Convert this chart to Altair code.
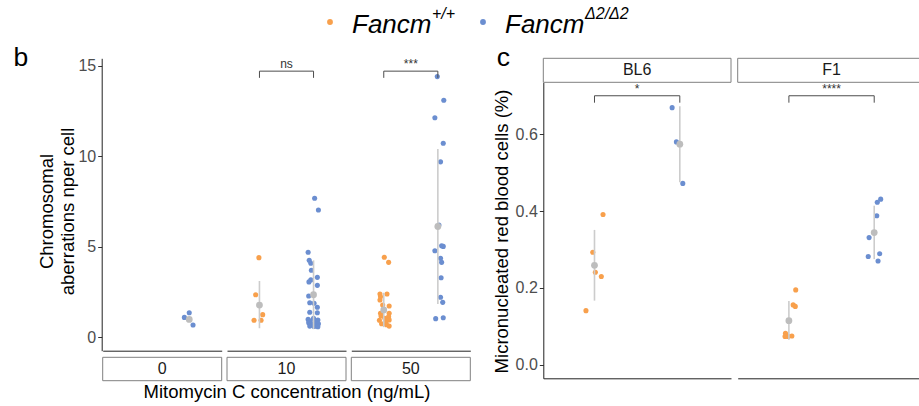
import altair as alt
import pandas as pd

FONT = "Liberation Sans"
COL_WT = "#F8A04C"
COL_KO = "#6B8ED0"
COL_MEAN = "#BDBDBD"
COL_SD = "#CCCCCC"
COL_LINE = "#222222"
COL_BRACKET = "#4D4D4D"
COL_STRIP = "#808080"

genotypes = ["+/+", "Δ2/Δ2"]
geno_slot = {"+/+": 1, "Δ2/Δ2": 2}

# ---------------- panel b: chromosomal aberrations per cell ----------------
b_concentrations = ["0", "10", "50"]

b_0_ko = [1.10, 1.36, 0.68]
b_0_ko_jitter = [-0.09, 0.00, 0.07]

b_10_wt = [4.40, 2.35, 1.25, 0.94, 0.94]
b_10_wt_jitter = [-0.01, -0.07, 0.06, -0.10, 0.03]

b_10_ko = [7.68, 7.03, 4.70, 4.25, 4.09, 3.70, 3.31, 3.17, 3.06, 2.87,
           2.28, 1.91, 1.88, 1.66, 1.38, 1.36, 1.05, 0.99, 0.95, 0.90,
           0.85, 0.80, 0.75, 0.70, 0.65, 0.62, 0.60, 0.58]
b_10_ko_jitter = [0.02, 0.09, -0.10, -0.08, -0.05, -0.04, 0.07, -0.05, -0.085, 0.07,
                  -0.09, -0.07, 0.01, 0.07, -0.07, 0.07, 0.00, -0.10, 0.08, -0.06,
                  0.03, -0.09, 0.09, -0.02, 0.05, -0.07, 0.01, 0.08]

b_50_wt = [4.42, 4.14, 2.39, 2.39, 2.24, 2.06, 1.78, 1.73, 1.50, 1.33,
           1.33, 1.18, 1.14, 1.05, 0.96, 0.94, 0.86, 0.75, 0.70, 0.62]
b_50_wt_jitter = [0.01, 0.09, -0.07, 0.06, -0.06, -0.07, -0.02, 0.10, 0.00, -0.06,
                  0.10, -0.05, 0.09, 0.02, 0.10, -0.08, 0.04, -0.04, 0.05, 0.10]

b_50_ko = [14.40, 13.09, 12.13, 10.72, 9.69, 6.20, 5.06, 5.02, 4.78, 4.36,
           4.14, 3.29, 2.21, 1.93, 1.03, 1.08]
b_50_ko_jitter = [-0.01, 0.11, -0.055, 0.10, 0.05, 0.02, 0.07, 0.10, -0.055, 0.05,
                  0.07, 0.06, 0.05, 0.09, -0.04, 0.10]

# group mean and mean +/- sd
b_sum_panel = ["0", "10", "10", "50", "50"]
b_sum_geno = ["Δ2/Δ2", "+/+", "Δ2/Δ2", "+/+", "Δ2/Δ2"]
b_sum_mean = [0.99, 1.78, 2.35, 1.51, 6.12]
b_sum_lo = [0.99, 0.50, 0.45, 0.56, 1.84]
b_sum_hi = [0.99, 3.11, 4.25, 2.46, 10.40]

b_br_panel = ["10", "50"]
b_br_label = ["ns", "***"]
b_br_level = [14.70, 14.70]
b_br_tick = [14.33, 14.33]

# ---------------- panel c: micronucleated red blood cells ----------------
c_strains = ["BL6", "F1"]

c_bl6_wt = [0.391, 0.293, 0.241, 0.230, 0.141]
c_bl6_wt_jitter = [0.10, -0.02, 0.01, 0.08, -0.10]
c_bl6_ko = [0.669, 0.580, 0.472]
c_bl6_ko_jitter = [-0.09, -0.04, 0.035]

c_f1_wt = [0.195, 0.156, 0.152, 0.082, 0.074, 0.074, 0.075]
c_f1_wt_jitter = [0.08, 0.05, 0.075, -0.04, -0.045, -0.01, 0.035]
c_f1_ko = [0.431, 0.423, 0.388, 0.331, 0.282, 0.289, 0.270]
c_f1_ko_jitter = [0.076, 0.036, 0.03, -0.06, -0.07, 0.064, 0.045]

c_sum_panel = ["BL6", "BL6", "F1", "F1"]
c_sum_geno = ["+/+", "Δ2/Δ2", "+/+", "Δ2/Δ2"]
c_sum_mean = [0.259, 0.574, 0.115, 0.344]
c_sum_lo = [0.167, 0.475, 0.065, 0.275]
c_sum_hi = [0.351, 0.673, 0.166, 0.414]

c_br_panel = ["BL6", "F1"]
c_br_label = ["*", "****"]
c_br_level = [0.700, 0.700]
c_br_tick = [0.682, 0.682]

legend_name = ["Fancm", "Fancm"]
legend_sup = ["+/+", "Δ2/Δ2"]
panel_letters = ["b", "c"]


# ---------------- table builders ----------------
def points_frame(groups):
    rows = []
    for panel, geno, values, jitter in groups:
        for v, j in zip(values, jitter):
            rows.append({"panel": panel, "geno": geno, "value": v,
                         "x": geno_slot[geno] + j})
    return pd.DataFrame(rows)


def summary_frame(panel, geno, mean, lo, hi):
    return pd.DataFrame({"panel": panel, "geno": geno, "mean": mean, "lo": lo,
                         "hi": hi, "x": [geno_slot[g] for g in geno]})


def bracket_frames(panel, label, level, tick):
    segs, labels = [], []
    a, b = geno_slot["+/+"], geno_slot["Δ2/Δ2"]
    for p, lab, lv, tk in zip(panel, label, level, tick):
        segs += [
            {"panel": p, "x": a, "x2": b, "y": lv, "y2": lv},
            {"panel": p, "x": a, "x2": a, "y": lv, "y2": tk},
            {"panel": p, "x": b, "x2": b, "y": lv, "y2": tk},
        ]
        labels.append({"panel": p, "x": (a + b) / 2, "y": lv, "label": lab})
    return (pd.DataFrame(segs, columns=["panel", "x", "x2", "y", "y2"]),
            pd.DataFrame(labels, columns=["panel", "x", "y", "label"]))


b_points = points_frame([
    ("0", "Δ2/Δ2", b_0_ko, b_0_ko_jitter),
    ("10", "+/+", b_10_wt, b_10_wt_jitter),
    ("10", "Δ2/Δ2", b_10_ko, b_10_ko_jitter),
    ("50", "+/+", b_50_wt, b_50_wt_jitter),
    ("50", "Δ2/Δ2", b_50_ko, b_50_ko_jitter),
])
b_summary = summary_frame(b_sum_panel, b_sum_geno, b_sum_mean, b_sum_lo, b_sum_hi)
b_segs, b_labels = bracket_frames(b_br_panel, b_br_label, b_br_level, b_br_tick)

c_points = points_frame([
    ("BL6", "+/+", c_bl6_wt, c_bl6_wt_jitter),
    ("BL6", "Δ2/Δ2", c_bl6_ko, c_bl6_ko_jitter),
    ("F1", "+/+", c_f1_wt, c_f1_wt_jitter),
    ("F1", "Δ2/Δ2", c_f1_ko, c_f1_ko_jitter),
])
c_summary = summary_frame(c_sum_panel, c_sum_geno, c_sum_mean, c_sum_lo, c_sum_hi)
c_segs, c_labels = bracket_frames(c_br_panel, c_br_label, c_br_level, c_br_tick)

color_scale = alt.Scale(domain=genotypes, range=[COL_WT, COL_KO])

# ---------------- page geometry (pixels) ----------------
W, H = 919, 406
B_X = [(102.7, 221.7), (227.0, 346.0), (351.3, 470.3)]
B_Y = (350.7, 58.3)
B_STRIP = (357.3, 380.7)
C_X = [(543.3, 731.0), (737.7, 925.4)]
C_Y = (378.3, 82.3)
C_STRIP = (58.3, 82.3)
B_DOMAIN = [-0.74, 15.41]
C_DOMAIN = [-0.035, 0.735]

AXIS_STYLE = dict(tickSize=4, tickColor="#333333", tickWidth=1, labelFontSize=16,
                  labelColor="#4D4D4D", labelPadding=2, labelFont=FONT,
                  domainColor=COL_LINE, domainWidth=1, titleFont=FONT,
                  titleFontSize=18.5, titleColor="black", titleFontWeight="normal",
                  grid=False)


def x_axis(bottom, title=None, title_y=None):
    kw = dict(orient="bottom", offset=bottom - H, labels=False, ticks=False,
              domainColor=COL_LINE, domainWidth=1, grid=False)
    if title is None:
        return alt.Axis(title=None, **kw)
    return alt.Axis(title=title, titleFont=FONT, titleFontSize=18.5,
                    titleColor="black", titleFontWeight="normal",
                    titleBaseline="alphabetic", titleY=title_y, **kw)


def panel(name, pts, summ, segs, labels, x_rng, y_rng, y_dom, y_axis, xaxis,
          strip_y):
    pts = pts[pts.panel == name]
    summ = summ[summ.panel == name]
    segs = segs[segs.panel == name]
    labels = labels[labels.panel == name]
    xs = alt.Scale(domain=[0.4, 2.6], range=list(x_rng), nice=False, zero=False)
    ys = alt.Scale(domain=y_dom, range=list(y_rng), nice=False, zero=False)

    def X(f):
        return alt.X(f"{f}:Q", scale=xs, axis=xaxis)

    def Y(f):
        return alt.Y(f"{f}:Q", scale=ys, axis=y_axis)

    layers = [
        alt.Chart(pts).mark_circle(size=26, opacity=1).encode(
            x=X("x"), y=Y("value"),
            color=alt.Color("geno:N", scale=color_scale, legend=None)),
        alt.Chart(summ).mark_rule(color=COL_SD, strokeWidth=1.6).encode(
            x=X("x"), y=Y("lo"), y2=alt.Y2("hi:Q")),
        alt.Chart(summ).mark_circle(size=46, opacity=1, color=COL_MEAN).encode(
            x=X("x"), y=Y("mean")),
    ]
    if len(segs):
        layers.append(alt.Chart(segs).mark_rule(color=COL_BRACKET, strokeWidth=1).encode(
            x=X("x"), x2=alt.X2("x2:Q"), y=Y("y"), y2=alt.Y2("y2:Q")))
        layers.append(alt.Chart(labels).mark_text(
            fontSize=12, color="#333333", baseline="alphabetic", dy=-3, font=FONT).encode(
            x=X("x"), y=Y("y"), text="label:N"))
    # facet strip: box spans the panel's x domain
    strip_df = pd.DataFrame({"label": [name]})
    layers.append(alt.Chart(strip_df).mark_rect(
        fill="white", stroke=COL_STRIP, strokeWidth=1).encode(
        x=alt.datum(0.4), x2=alt.datum(2.6),
        y=alt.value(strip_y[0]), y2=alt.value(strip_y[1])))
    layers.append(alt.Chart(strip_df).mark_text(
        fontSize=16, color="#1A1A1A", font=FONT, align="center", baseline="middle").encode(
        x=alt.datum(1.5), y=alt.value((strip_y[0] + strip_y[1]) / 2), text="label:N"))
    return alt.layer(*layers)


b_y_axis = alt.Axis(orient="left", offset=-101.7, values=[0, 5, 10, 15],
                    title=["Chromosomal", "aberrations nper cell"],
                    titleAngle=-90, titleAlign="center", titleBaseline="alphabetic",
                    titleX=-48.7, titleY=211, titleLineHeight=20, **AXIS_STYLE)
c_y_axis = alt.Axis(orient="left", offset=-543.3, values=[0, 0.2, 0.4, 0.6],
                    format=".1f", title="Micronucleated red blood cells (%)",
                    titleAngle=-90, titleAlign="center", titleBaseline="alphabetic",
                    titleX=-35.5, titleY=231, **AXIS_STYLE)

panels = []
for i, conc in enumerate(b_concentrations):
    xa = x_axis(B_Y[0], "Mitomycin C concentration (ng/mL)", 46.3) if i == 1 \
        else x_axis(B_Y[0])
    panels.append(panel(conc, b_points, b_summary, b_segs, b_labels, B_X[i], B_Y,
                        B_DOMAIN, b_y_axis if i == 0 else None, xa, B_STRIP))
for i, strain in enumerate(c_strains):
    panels.append(panel(strain, c_points, c_summary, c_segs, c_labels, C_X[i], C_Y,
                        C_DOMAIN, c_y_axis if i == 0 else None, x_axis(C_Y[0]),
                        C_STRIP))

# ---------------- legend and panel letters ----------------
legend_df = pd.DataFrame({"geno": genotypes, "name": legend_name, "sup": legend_sup})
lx = alt.X("geno:N", scale=alt.Scale(domain=genotypes, range=[330, 483], padding=0),
           axis=None)
legend = alt.layer(
    alt.Chart(legend_df).mark_circle(size=34, opacity=1).encode(
        x=lx, y=alt.value(22),
        color=alt.Color("geno:N", scale=color_scale, legend=None)),
    alt.Chart(legend_df).mark_text(
        fontSize=26, fontStyle="italic", font=FONT, align="left",
        baseline="alphabetic", dx=22, color="black").encode(
        x=lx, y=alt.value(33), text="name:N"),
    alt.Chart(legend_df).mark_text(
        fontSize=16, fontStyle="italic", font=FONT, align="left",
        baseline="alphabetic", dx=102, color="black").encode(
        x=lx, y=alt.value(19), text="sup:N"),
)

letters_df = pd.DataFrame({"letter": panel_letters})
letters = alt.Chart(letters_df).mark_text(
    fontSize=26.5, font=FONT, align="left", baseline="alphabetic", color="black"
).encode(
    x=alt.X("letter:N", scale=alt.Scale(domain=panel_letters, range=[13.5, 496.7],
                                        padding=0), axis=None),
    y=alt.value(65.5), text="letter:N")

chart = alt.layer(legend, letters, *panels).resolve_scale(
    x="independent", y="independent"
).properties(
    width=W, height=H, padding=0, autosize=alt.AutoSizeParams(type="none")
).configure_view(strokeWidth=0).configure_axis(grid=False)

chart.save("out.html", embed_options={"renderer": "svg", "actions": False})
